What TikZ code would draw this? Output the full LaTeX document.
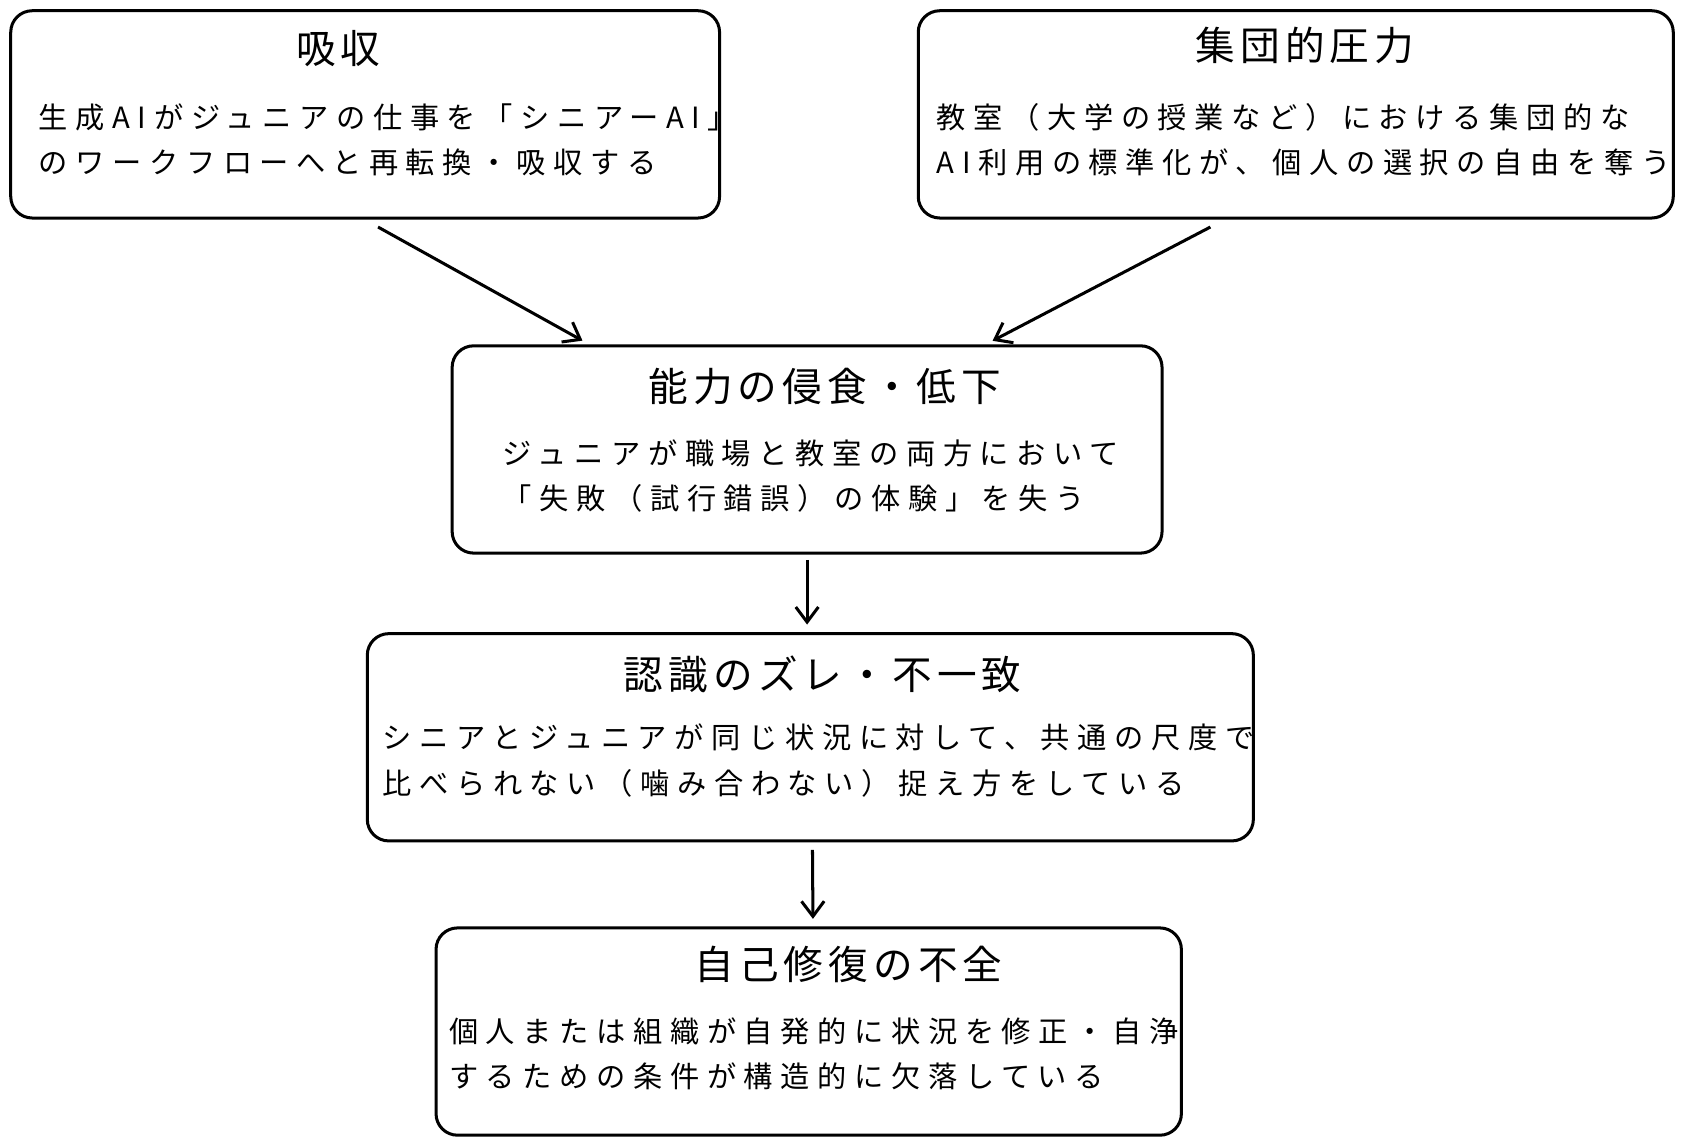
\documentclass[tikz,border=0pt]{standalone}
\usepackage{fontspec}
\setmainfont{Noto Sans CJK JP}
\newfontfamily\bodyf[LetterSpace=26]{Noto Sans CJK JP}
\newfontfamily\ttlf[LetterSpace=13]{Noto Sans CJK JP}
\usetikzlibrary{arrows.meta}
\begin{document}
\begin{tikzpicture}[x=0.02cm,y=-0.02cm,
 box/.style={draw,line width=1.6pt,rounded corners=0.4cm,inner sep=0},
 ttl/.style={font=\ttlf\fontsize{21}{24}\selectfont},
 bdy/.style={font=\bodyf\fontsize{15.5}{24}\selectfont,align=left,anchor=north west},
 arr/.style={line width=1.6pt,-{Straight Barb[length=8pt,width=12pt]},shorten >=4pt}]
\useasboundingbox (0,0) rectangle (1568,1067);
\node[box,minimum width=660*0.02cm,minimum height=193*0.02cm] (b1) at (340,106.5) {};
\node[box,minimum width=703*0.02cm,minimum height=193*0.02cm] (b2) at (1206.5,106.5) {};
\node[box,minimum width=661*0.02cm,minimum height=193*0.02cm] (b3) at (751.5,418.5) {};
\node[box,minimum width=825*0.02cm,minimum height=193*0.02cm] (b4) at (754.5,686.5) {};
\node[box,minimum width=694*0.02cm,minimum height=193*0.02cm] (b5) at (753,960.5) {};
\node[ttl] (t1) at (315,45) {吸収};
\node[ttl] (t2) at (1215,42) {集団的圧力};
\node[ttl] (t3) at (768,360) {能力の侵食・低下};
\node[ttl] (t4) at (766,628) {認識のズレ・不一致};
\node[ttl] (t5) at (790,898) {自己修復の不全};
\node[bdy] (x1) at (30,90) {生成AIがジュニアの仕事を「シニアーAI」\\のワークフローへと再転換・吸収する};
\node[bdy] (x2) at (866,90) {教室（大学の授業など）における集団的な\\AI利用の標準化が、個人の選択の自由を奪う};
\node[bdy] (x3) at (462,403) {ジュニアが職場と教室の両方において\\「失敗（試行錯誤）の体験」を失う};
\node[bdy] (x4) at (350,668) {シニアとジュニアが同じ状況に対して、共通の尺度で\\比べられない（噛み合わない）捉え方をしている};
\node[bdy] (x5) at (412,941) {個人または組織が自発的に状況を修正・自浄\\するための条件が構造的に欠落している};
\draw[arr] ([xshift=12*0.02cm,yshift=-7*0.02cm]b1.south) -- ([xshift=-203*0.02cm]b3.north);
\draw[arr] ([xshift=-79.5*0.02cm,yshift=-7*0.02cm]b2.south) -- ([xshift=166.5*0.02cm]b3.north);
\draw[arr] ([yshift=-5*0.02cm]b3.south) -- (b4.north -| b3.south);
\draw[arr] ([xshift=2*0.02cm,yshift=-7*0.02cm]b4.south) -- ([xshift=4*0.02cm]b5.north);
\end{tikzpicture}
\end{document}
